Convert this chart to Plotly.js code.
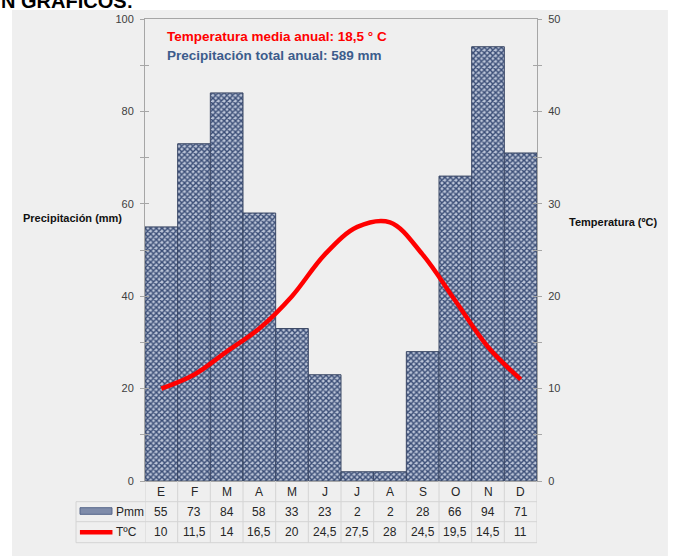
<!DOCTYPE html>
<html><head><meta charset="utf-8">
<script src="https://cdn.plot.ly/plotly-3.0.1.min.js"></script>
<style>body{margin:0;padding:0;background:#fff}#chart{width:676px;height:556px}</style>
</head><body><div id="chart"></div>
<script>
const months = ['E','F','M','A','M','J','J','A','S','O','N','D'];
const precip = [55,73,84,58,33,23,2,2,28,66,94,71];
const temp = [10,11.5,14,16.5,20,24.5,27.5,28,24.5,19.5,14.5,11];
const precipLabel = 'Pmm';
const tempLabel = 'TºC';
const idx = months.map((m,i)=>i);
const fmt = v => String(v).replace('.', ',');

const gridC = '#d4d4d4';
const axisC = '#a6a6a6';
const txtC = '#262626';
const fontTick = {family:'Liberation Sans, Arial, sans-serif', size:11, color:'#404040'};
const tblFont = {family:'Liberation Sans, Arial', size:12, color:txtC};

const rowY = {mon:-0.0232, p:-0.0665, t:-0.111};
const lineY = [0, -0.0448, -0.0881, -0.1335];
const labX0 = -0.176;

const traces = [
  {type:'bar', x: idx, y: precip, yaxis:'y', width:1,
   marker:{color:'#4a5d84', line:{color:'#3b4865', width:1},
     pattern:{shape:'x', bgcolor:'#bcc5d8', fgcolor:'#3a4d76', size:4, solidity:0.6, fillmode:'replace'}},
   hoverinfo:'skip'},
  {type:'scatter', mode:'lines', x: idx, y: temp, yaxis:'y2',
   line:{color:'#ff0000', width:4.5, shape:'spline', smoothing:1}, hoverinfo:'skip'}
];

const annotations = [];
const ann = (o) => annotations.push(Object.assign({showarrow:false, xanchor:'center', yanchor:'middle'}, o));
months.forEach((m,i)=>{
  ann({x:i, xref:'x', y:rowY.mon, yref:'paper', text:m, font:tblFont});
  ann({x:i, xref:'x', y:rowY.p, yref:'paper', text:fmt(precip[i]), font:tblFont});
  ann({x:i, xref:'x', y:rowY.t, yref:'paper', text:fmt(temp[i]), font:tblFont});
});
ann({x:-0.079, xref:'paper', xanchor:'left', y:rowY.p, yref:'paper', text:precipLabel, font:tblFont});
ann({x:-0.079, xref:'paper', xanchor:'left', y:rowY.t, yref:'paper', text:tempLabel, font:tblFont});
ann({x:-0.186, xref:'paper', y:0.569, yref:'paper', text:'<b>Precipitación (mm)</b>', font:{family:'Liberation Sans, Arial', size:11, color:'#111'}});
ann({x:1.194, xref:'paper', y:0.561, yref:'paper', text:'<b>Temperatura (ºC)</b>', font:{family:'Liberation Sans, Arial', size:11, color:'#111'}});
ann({x:0.051, xref:'paper', xanchor:'left', y:0.963, yref:'paper', text:'<b>Temperatura media anual: 18,5 ° C</b>', font:{family:'Liberation Sans Narrow, Arial Narrow, Liberation Sans, Arial', size:13.5, color:'#ff0000'}});
ann({x:0.051, xref:'paper', xanchor:'left', y:0.922, yref:'paper', text:'<b>Precipitación total anual: 589 mm</b>', font:{family:'Liberation Sans Narrow, Arial Narrow, Liberation Sans, Arial', size:13.5, color:'#3c5c8c'}});
ann({x:-0.372, xref:'paper', xanchor:'left', y:1.0108, yref:'paper', yanchor:'bottom', text:'<b>N GRÁFICOS:</b>', font:{family:'Liberation Sans, Arial', size:20, color:'#000'}});

const shapes = [
  {type:'rect', xref:'paper', yref:'paper', x0:-0.3393, x1:1.334, y0:-0.25, y1:1.0195, fillcolor:'#efefef', line:{width:0}, layer:'below'}
];
for (let k=0;k<=months.length;k++){
  shapes.push({type:'line', xref:'x', yref:'paper', x0:k-0.5, x1:k-0.5, y0:0, y1:lineY[3], line:{color:gridC, width:1}});
}
shapes.push({type:'line', xref:'paper', yref:'paper', x0:labX0, x1:labX0, y0:lineY[1], y1:lineY[3], line:{color:gridC, width:1}});
for (let r=1;r<lineY.length;r++){
  shapes.push({type:'line', xref:'paper', yref:'paper', x0:labX0, x1:1, y0:lineY[r], y1:lineY[r], line:{color:gridC, width:1}});
}
shapes.push({type:'rect', xref:'paper', yref:'paper', x0:-0.1658, x1:-0.0842, y0:-0.0578, y1:-0.0721, fillcolor:'#7f8caa', line:{color:'#56668a', width:1}});
shapes.push({type:'line', xref:'paper', yref:'paper', x0:-0.166, x1:-0.083, y0:rowY.t, y1:rowY.t, line:{color:'#ff0000', width:4.5}});

const layout = {
  width:676, height:556,
  margin:{l:145, r:139, t:19, b:75, pad:0},
  paper_bgcolor:'#ffffff', plot_bgcolor:'rgba(0,0,0,0)',
  showlegend:false, bargap:0,
  xaxis:{type:'linear', range:[-0.5, 11.5], showticklabels:false, ticks:'', showgrid:false, zeroline:false,
         showline:true, mirror:true, linecolor:axisC, linewidth:1},
  yaxis:{range:[0,100], dtick:20, ticks:'outside', ticklen:4, tickcolor:axisC, showgrid:false, zeroline:false,
         showline:true, linecolor:axisC, tickfont:fontTick, ticklabelstandoff:4,
         minor:{dtick:10, ticks:'outside', ticklen:4, tickcolor:axisC}},
  yaxis2:{range:[0,50], dtick:10, overlaying:'y', side:'right', ticks:'outside', ticklen:4, tickcolor:axisC, showgrid:false, zeroline:false,
         showline:true, linecolor:axisC, tickfont:fontTick, ticklabelstandoff:4,
         minor:{dtick:5, ticks:'outside', ticklen:4, tickcolor:axisC}},
  yaxis3:{range:[0,100], dtick:20, overlaying:'y', side:'left', ticks:'inside', ticklen:4, tickcolor:axisC, showgrid:false, zeroline:false,
         showline:false, showticklabels:false, minor:{dtick:10, ticks:'inside', ticklen:4, tickcolor:axisC}},
  yaxis4:{range:[0,50], dtick:10, overlaying:'y', side:'right', ticks:'inside', ticklen:4, tickcolor:axisC, showgrid:false, zeroline:false,
         showline:false, showticklabels:false, minor:{dtick:5, ticks:'inside', ticklen:4, tickcolor:axisC}},
  annotations, shapes
};
traces.push({type:'scatter', x:[0], y:[null], yaxis:'y3', hoverinfo:'skip', showlegend:false});
traces.push({type:'scatter', x:[0], y:[null], yaxis:'y4', hoverinfo:'skip', showlegend:false});
Plotly.newPlot('chart', traces, layout, {staticPlot:true});
</script></body></html>
